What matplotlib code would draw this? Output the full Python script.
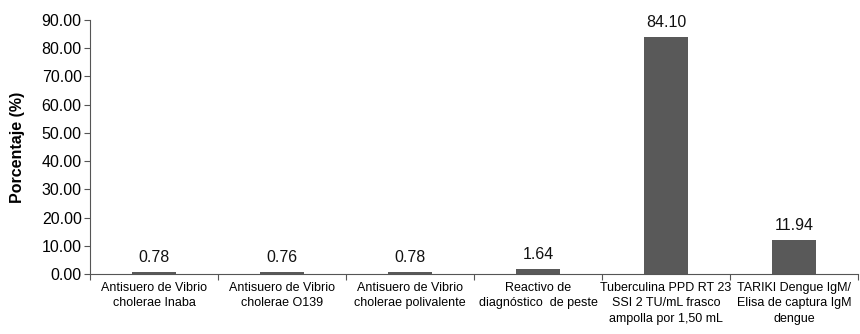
import numpy as np
import matplotlib.pyplot as plt

plt.rcParams['font.family'] = ['Liberation Sans', 'DejaVu Sans']

categorias = ['Antisuero de Vibrio\ncholerae Inaba',
              'Antisuero de Vibrio\ncholerae O139',
              'Antisuero de Vibrio\ncholerae polivalente',
              'Reactivo de\ndiagnóstico  de peste',
              'Tuberculina PPD RT 23\nSSI 2 TU/mL frasco\nampolla por 1,50 mL',
              'TARIKI Dengue IgM/\nElisa de captura IgM\ndengue']
porcentajes = [0.78, 0.76, 0.78, 1.64, 84.10, 11.94]
yticks = np.arange(0, 91, 10)

fig = plt.figure(figsize=(8.6, 3.34), dpi=100)
ax = fig.add_axes([0.1047, 0.1796, 0.893, 0.7604])
x = np.arange(len(categorias))
ax.bar(x, porcentajes, width=0.345, color='#595959')
for xi, v in zip(x, porcentajes):
    ax.text(xi, v + 2.5, f'{v:.2f}', ha='center', va='bottom', fontsize=11.5, color='#111111')

ax.set_xlim(-0.5, len(categorias) - 0.5)
ax.set_ylim(0, 90)
ax.set_yticks(yticks)
ax.set_yticklabels([f'{t:.2f}' for t in yticks], fontsize=11.5)
# ticks at category borders, labels centred under the bars
ax.set_xticks(np.arange(-0.5, len(categorias)))
ax.set_xticklabels([])
ax.set_xticks(x, minor=True)
ax.set_xticklabels(categorias, minor=True, fontsize=9, linespacing=1.35)
ax.tick_params(axis='x', which='minor', length=0, pad=6)
ax.tick_params(axis='x', which='major', length=4, direction='out', color='#555555')
ax.tick_params(axis='y', length=4, direction='out', color='#555555', pad=2)
ax.set_ylabel('Porcentaje (%)', fontsize=11.5, fontweight='bold', labelpad=12)
for s in ['top', 'right']:
    ax.spines[s].set_visible(False)
for s in ['left', 'bottom']:
    ax.spines[s].set_color('#555555')
    ax.spines[s].set_linewidth(0.8)

fig.savefig('out.png', dpi=100)
